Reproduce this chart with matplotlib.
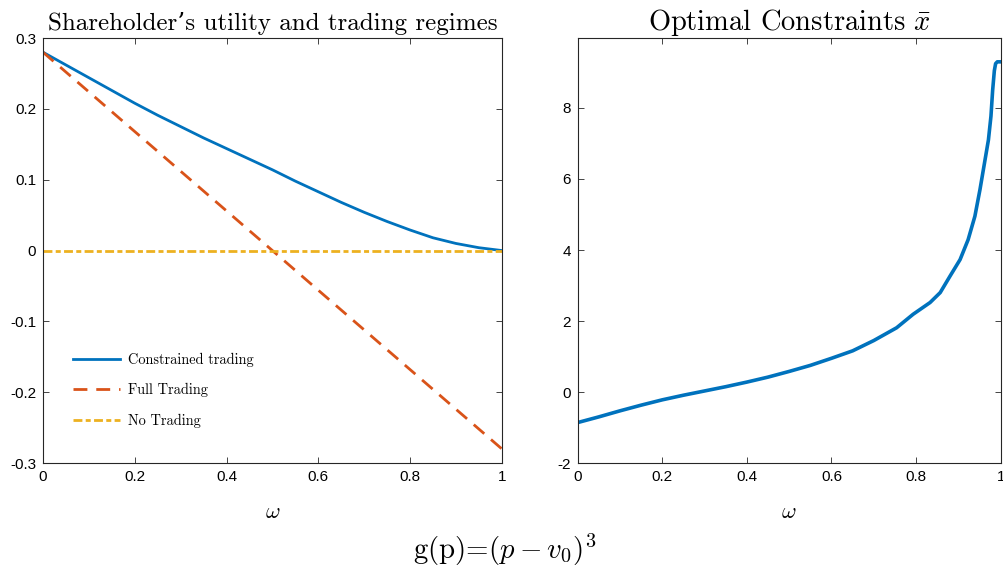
import matplotlib
matplotlib.use("Agg")
import matplotlib.pyplot as plt
from matplotlib.ticker import FuncFormatter

# Daten
omega_left = [0, 0.05, 0.1, 0.15, 0.2, 0.25, 0.3, 0.35, 0.4, 0.45, 0.5,
              0.55, 0.6, 0.65, 0.7, 0.75, 0.8, 0.85, 0.9, 0.95, 1.0]
constrained = [0.280, 0.262, 0.244, 0.226, 0.208, 0.191, 0.175, 0.159, 0.144, 0.129, 0.114,
               0.098, 0.083, 0.068, 0.054, 0.041, 0.029, 0.018, 0.010, 0.004, 0.0]
omega_full = [0, 1]
full_trading = [0.28, -0.28]
omega_none = [0, 1]
no_trading = [0, 0]

omega_right = [0, 0.05, 0.1, 0.15, 0.2, 0.25, 0.3, 0.35, 0.4, 0.45, 0.5, 0.55, 0.6,
               0.65, 0.7, 0.754, 0.793, 0.833, 0.857, 0.88, 0.904, 0.923, 0.939,
               0.951, 0.963, 0.971, 0.977, 0.981, 0.985, 0.988, 0.992, 1.0]
x_bar = [-0.86, -0.70, -0.53, -0.37, -0.22, -0.09, 0.03, 0.15, 0.28, 0.42, 0.58, 0.75, 0.95,
         1.16, 1.45, 1.81, 2.19, 2.52, 2.80, 3.26, 3.73, 4.29, 4.95,
         5.70, 6.54, 7.10, 7.77, 8.5, 9.05, 9.25, 9.3, 9.3]

x_ticks = [0, 0.2, 0.4, 0.6, 0.8, 1]
left_yticks = [-0.3, -0.2, -0.1, 0, 0.1, 0.2, 0.3]
right_yticks = [-2, 0, 2, 4, 6, 8]

BLUE = "#0072BD"
ORANGE = "#D95319"
YELLOW = "#EDB120"

plt.rcParams["mathtext.fontset"] = "cm"
plt.rcParams["font.family"] = ["Liberation Sans", "DejaVu Sans"]
plt.rcParams["axes.unicode_minus"] = False
SERIF = ["cmr10", "DejaVu Serif"]


def fmt(v, pos):
    s = f"{v:g}"
    return "0" if s in ("0", "-0") else s


def style_axes(ax):
    for sp in ax.spines.values():
        sp.set_color("#262626")
        sp.set_linewidth(0.8)
    ax.tick_params(direction="in", top=True, right=True, length=4,
                   width=0.6, color="#262626", labelsize=11, pad=5)
    ax.xaxis.set_major_formatter(FuncFormatter(fmt))
    ax.yaxis.set_major_formatter(FuncFormatter(fmt))
    ax.set_xticks(x_ticks)
    ax.set_xlim(0, 1)
    ax.set_xlabel(r"$\omega$", fontsize=16, labelpad=13)


fig = plt.figure(figsize=(10.04, 5.79), dpi=100)
ax1 = fig.add_axes([0.0428, 0.2003, 0.457, 0.734])
ax2 = fig.add_axes([0.5754, 0.2003, 0.4213, 0.734])

# linker Plot
ax1.plot(omega_left, constrained, color=BLUE, lw=2, label="Constrained trading")
ax1.plot(omega_full, full_trading, color=ORANGE, lw=2, dashes=(5, 3.2), label="Full Trading")
ax1.plot(omega_none, no_trading, color=YELLOW, lw=2, dashes=(3.2, 1.2, 1.8, 1.2), label="No Trading")
style_axes(ax1)
ax1.set_ylim(-0.3, 0.3)
ax1.set_yticks(left_yticks)
ax1.set_title("Shareholder\u2019s utility and trading regimes", family=SERIF, fontsize=18, pad=6)
leg = ax1.legend(loc="lower left", bbox_to_anchor=(0.038, 0.052), frameon=False,
                 prop={"family": SERIF, "size": 10.3}, handlelength=3.3,
                 handletextpad=0.55, labelspacing=1.15)

# rechter Plot
ax2.plot(omega_right, x_bar, color=BLUE, lw=2.6)
style_axes(ax2)
ax2.set_ylim(-2, 9.97)
ax2.set_yticks(right_yticks)
ax2.set_title(r"Optimal Constraints $\bar{x}$", family=SERIF, fontsize=20.5, pad=6)

fig.text(0.503, 0.035, r"g(p)=$(p-v_0)^3$", family=SERIF, fontsize=20.8, ha="center")

fig.savefig("out.png", dpi=100)
